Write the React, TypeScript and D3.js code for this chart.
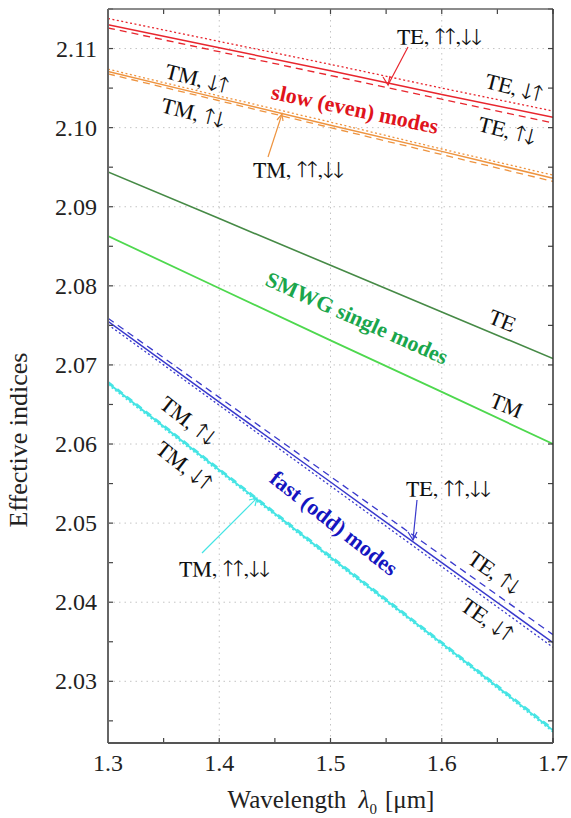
import React from "react";
import * as d3 from "d3";

const W = 571;
const H = 818;

const wavelengths = [1.3, 1.4, 1.5, 1.6, 1.7];

// slow (even) modes
const slowTE_same = [2.113, 2.1101, 2.1072, 2.1042, 2.1013];
const slowTE_du = [2.1138, 2.1109, 2.108, 2.105, 2.1021];
const slowTE_ud = [2.1126, 2.1096, 2.1066, 2.1036, 2.1006];
const slowTM_same = [2.1071, 2.1037, 2.1003, 2.097, 2.0936];
const slowTM_du = [2.1074, 2.104, 2.1007, 2.0973, 2.094];
const slowTM_ud = [2.1068, 2.1034, 2.1, 2.0966, 2.0932];
// SMWG single modes
const singleTE = [2.0944, 2.0885, 2.0826, 2.0767, 2.0708];
const singleTM = [2.0863, 2.0797, 2.0731, 2.0666, 2.06];
// fast (odd) modes
const fastTE_same = [2.0755, 2.0653, 2.0552, 2.045, 2.0349];
const fastTE_ud = [2.0759, 2.0659, 2.0559, 2.0459, 2.0359];
const fastTE_du = [2.0751, 2.0649, 2.0547, 2.0445, 2.0343];
const fastTM_same = [2.0677, 2.0567, 2.0457, 2.0348, 2.0238];
const fastTM_ud = [2.0679, 2.0569, 2.0459, 2.035, 2.024];
const fastTM_du = [2.0675, 2.0565, 2.0455, 2.0346, 2.0236];

const xTicks = [1.3, 1.4, 1.5, 1.6, 1.7];
const xMinor = [1.35, 1.45, 1.55, 1.65];
const yTicks = [2.03, 2.04, 2.05, 2.06, 2.07, 2.08, 2.09, 2.1, 2.11];
const yMinor = [2.025, 2.035, 2.045, 2.055, 2.065, 2.075, 2.085, 2.095, 2.105, 2.115];

const RED = "#e8262e";
const ORANGE = "#ee9440";
const DGREEN = "#468a46";
const LGREEN = "#4ed84e";
const BLUE = "#3a3acc";
const CYAN = "#44e4e4";

const series = [
  { v: slowTE_same, c: RED, d: null, w: 1.5 },
  { v: slowTE_du, c: RED, d: "2,2.5", w: 1.3 },
  { v: slowTE_ud, c: RED, d: "7,5", w: 1.3 },
  { v: slowTM_same, c: ORANGE, d: null, w: 1.5 },
  { v: slowTM_du, c: ORANGE, d: "2,2.5", w: 1.3 },
  { v: slowTM_ud, c: ORANGE, d: "7,5", w: 1.3 },
  { v: singleTE, c: DGREEN, d: null, w: 1.6 },
  { v: singleTM, c: LGREEN, d: null, w: 1.8 },
  { v: fastTE_same, c: BLUE, d: null, w: 1.5 },
  { v: fastTE_ud, c: BLUE, d: "7,5", w: 1.3 },
  { v: fastTE_du, c: BLUE, d: "2,2.5", w: 1.3 },
  { v: fastTM_same, c: CYAN, d: null, w: 1.9 },
  { v: fastTM_ud, c: CYAN, d: "7,5", w: 1.5 },
  { v: fastTM_du, c: CYAN, d: "2,2.5", w: 1.5 },
];

const SERIF = '"Liberation Serif"';
const FREE = '"FreeSerif"';

export default function App() {
  const left = 108, right = 553, top = 9, bottom = 743;
  const x = d3.scaleLinear().domain([1.3, 1.7]).range([left, right]);
  const y = d3.scaleLinear().domain([2.0222, 2.115]).range([bottom, top]);
  const line = d3
    .line<number>()
    .x((_, i) => x(wavelengths[i]))
    .y((d) => y(d));

  const rot = (cx: number, cy: number, a: number, txt: string, opts: any = {}) => (
    <text
      transform={`translate(${cx},${cy}) rotate(${a})`}
      textAnchor="middle"
      dominantBaseline="central"
      fontSize={opts.size || 22}
      fontWeight={opts.bold ? "bold" : "normal"}
      fill={opts.fill || "#111"}
      style={{ fontFamily: opts.bold ? SERIF : FREE }}
    >
      {txt}
    </text>
  );
  const plain = (px: number, py: number, txt: string) => (
    <text x={px} y={py} fontSize={22} fill="#111" style={{ fontFamily: FREE }}>
      {txt}
    </text>
  );

  return (
    <svg width={W} height={H} style={{ position: "absolute", left: 0, top: 0, background: "#fff" }}>
      <rect x={0} y={0} width={W} height={H} fill="#fff" />
      <defs>
        <clipPath id="plot">
          <rect x={left} y={top} width={right - left} height={bottom - top} />
        </clipPath>
      </defs>
      {/* grid */}
      {xTicks.slice(1, -1).map((t) => (
        <line key={"gx" + t} x1={x(t)} x2={x(t)} y1={top} y2={bottom} stroke="#c4c4c4" strokeDasharray="1.5,4" />
      ))}
      {yTicks.map((t) => (
        <line key={"gy" + t} x1={left} x2={right} y1={y(t)} y2={y(t)} stroke="#c4c4c4" strokeDasharray="1.5,4" />
      ))}
      {/* series */}
      <g clipPath="url(#plot)">
        {series.map((s, i) => (
          <path
            key={i}
            d={line(s.v) || ""}
            fill="none"
            stroke={s.c}
            strokeWidth={s.w}
            strokeDasharray={s.d || undefined}
          />
        ))}
      </g>
      {/* ticks */}
      {[...xTicks, ...xMinor].map((t) => (
        <g key={"tx" + t}>
          <line x1={x(t)} x2={x(t)} y1={bottom} y2={bottom - 5} stroke="#444" strokeWidth={1.2} />
          <line x1={x(t)} x2={x(t)} y1={top} y2={top + 5} stroke="#444" strokeWidth={1.2} />
        </g>
      ))}
      {[...yTicks, ...yMinor].map((t) => (
        <g key={"ty" + t}>
          <line x1={left} x2={left + 5} y1={y(t)} y2={y(t)} stroke="#444" strokeWidth={1.2} />
          <line x1={right} x2={right - 5} y1={y(t)} y2={y(t)} stroke="#444" strokeWidth={1.2} />
        </g>
      ))}
      {/* frame */}
      <line x1={left} x2={right} y1={top} y2={top} stroke="#666" strokeWidth={1.5} />
      <line x1={right} x2={right} y1={top} y2={bottom} stroke="#333" strokeWidth={1.5} />
      <line x1={left} x2={left} y1={top} y2={bottom} stroke="#666" strokeWidth={2} />
      <line x1={left} x2={right} y1={bottom} y2={bottom} stroke="#555" strokeWidth={2} />
      {/* tick labels */}
      {yTicks.map((t) => (
        <text key={"ly" + t} x={97} y={y(t)} textAnchor="end" dominantBaseline="central" fontSize={24} fill="#222" style={{ fontFamily: SERIF }}>
          {t.toFixed(2)}
        </text>
      ))}
      {xTicks.map((t) => (
        <text key={"lx" + t} x={x(t)} y={bottom + 20} textAnchor="middle" dominantBaseline="central" fontSize={24} fill="#222" style={{ fontFamily: SERIF }}>
          {t.toFixed(1)}
        </text>
      ))}
      {/* axis titles */}
      <text transform="translate(18,440) rotate(-90)" textAnchor="middle" dominantBaseline="central" fontSize={26} fill="#222" style={{ fontFamily: SERIF }}>
        Effective indices
      </text>
      <text x={331} y={808} textAnchor="middle" fontSize={25} fill="#222" style={{ fontFamily: SERIF }}>
        <tspan>Wavelength </tspan>
        <tspan fontStyle="italic" dx={6}>λ</tspan>
        <tspan fontSize={15} dy={6}>0</tspan>
        <tspan dy={-6} dx={8}>[μm]</tspan>
      </text>

      {/* arrows */}
      <line x1={408} y1={47} x2={388} y2={85} stroke={RED} strokeWidth={1.2} />
      <path d="M383,77 L388,85 L390,76" fill="none" stroke={RED} strokeWidth={1.2} />
      <line x1={268} y1={157} x2={282} y2={114} stroke={ORANGE} strokeWidth={1.2} />
      <path d="M277,120 L282,114 L283,121" fill="none" stroke={ORANGE} strokeWidth={1.2} />
      <line x1={417} y1={500} x2={413} y2={540} stroke={BLUE} strokeWidth={1.2} />
      <path d="M408,532 L413,540 L417,532" fill="none" stroke={BLUE} strokeWidth={1.2} />
      <line x1={202} y1={553} x2={257} y2={498} stroke={CYAN} strokeWidth={1.2} />
      <path d="M249,500 L257,498 L255,506" fill="none" stroke={CYAN} strokeWidth={1.2} />

      {/* labels */}
      {plain(397, 44, "TE, ↑↑,↓↓")}
      {rot(514, 88, 14, "TE, ↓↑")}
      {rot(507, 131, 14, "TE, ↑↓")}
      {rot(355, 109, 12, "slow (even) modes", { bold: true, fill: "#e0141c" })}
      {rot(197, 79, 14, "TM, ↓↑")}
      {rot(193, 113, 14, "TM, ↑↓")}
      {plain(253, 177, "TM, ↑↑,↓↓")}
      {rot(357, 318, 24, "SMWG single modes", { bold: true, fill: "#1aa64c" })}
      {rot(502, 321, 22, "TE")}
      {rot(506, 406, 22, "TM")}
      {rot(334, 523, 38, "fast (odd) modes", { bold: true, fill: "#1515c0" })}
      {plain(406, 496, "TE, ↑↑,↓↓")}
      {rot(494, 573, 35, "TE, ↑↓")}
      {rot(487, 620, 35, "TE, ↓↑")}
      {rot(188, 421, 38, "TM, ↑↓")}
      {rot(184, 466, 38, "TM, ↓↑")}
      {plain(179, 576, "TM, ↑↑,↓↓")}
    </svg>
  );
}
